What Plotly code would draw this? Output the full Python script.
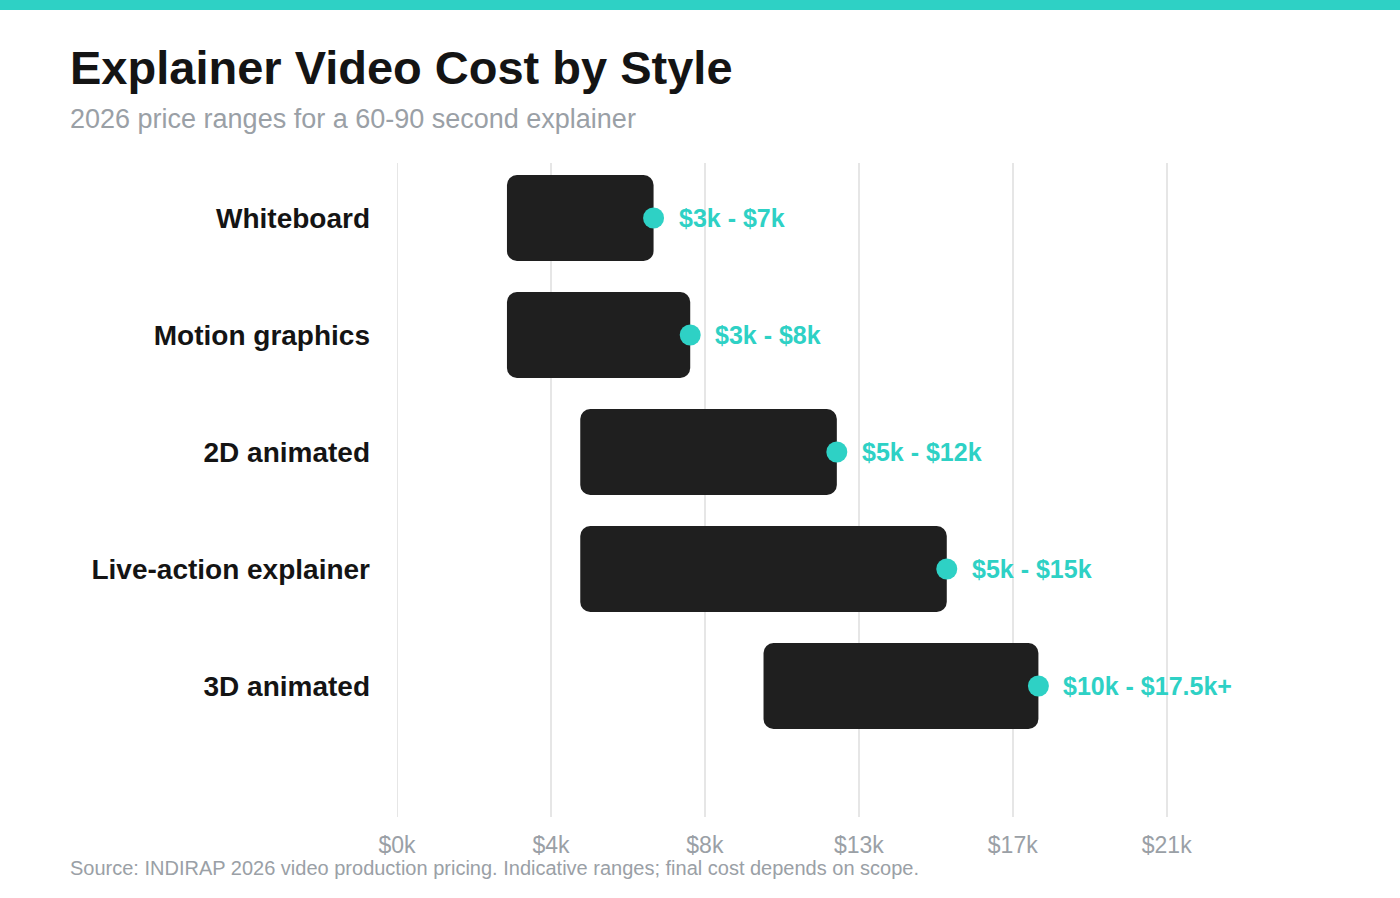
import plotly.graph_objects as go

styles = ["Whiteboard", "Motion graphics", "2D animated", "Live-action explainer", "3D animated"]
low_cost = [3000, 3000, 5000, 5000, 10000]
high_cost = [7000, 8000, 12000, 15000, 17500]
range_labels = ["$3k - $7k", "$3k - $8k", "$5k - $12k", "$5k - $15k", "$10k - $17.5k+"]
tick_values = [0, 4200, 8400, 12600, 16800, 21000]
tick_labels = ["$0k", "$4k", "$8k", "$13k", "$17k", "$21k"]

TEAL = "#2ED1C5"
DARK = "#1F1F1F"
GRAY = "#9AA0A6"
GRID = "#E6E6E6"
FONT = "Liberation Sans, Arial, sans-serif"

W, H = 1400, 898
ML, MR, MT, MB = 397, 160, 163, 81
PW, PH = W - ML - MR, H - MT - MB
XMAX = 23000

positions = list(range(len(styles)))

fig = go.Figure()
fig.add_trace(go.Bar(
    y=positions,
    x=[h - l for l, h in zip(low_cost, high_cost)],
    base=low_cost,
    orientation="h",
    width=0.735,
    marker=dict(color=DARK, line=dict(width=0)),
    hoverinfo="skip",
    showlegend=False,
))
fig.add_trace(go.Scatter(
    y=positions,
    x=high_cost,
    mode="markers",
    marker=dict(color=TEAL, size=21, line=dict(width=0)),
    hoverinfo="skip",
    showlegend=False,
))

annotations = []
for p, h, lab in zip(positions, high_cost, range_labels):
    annotations.append(dict(
        x=h, y=p, xref="x", yref="y", text=lab, showarrow=False,
        xanchor="left", yanchor="middle", xshift=24, borderpad=0,
        font=dict(family=FONT, size=25, color=TEAL, weight="bold"),
    ))

def px_x(px):
    return (px - ML) / PW

def px_y(py):
    return 1 - (py - MT) / PH

annotations.append(dict(
    x=px_x(69), y=px_y(119), xref="paper", yref="paper",
    text="2026 price ranges for a 60-90 second explainer", showarrow=False,
    xanchor="left", yanchor="middle", borderpad=0,
    font=dict(family=FONT, size=27, color=GRAY),
))
annotations.append(dict(
    x=px_x(69), y=px_y(868), xref="paper", yref="paper",
    text="Source: INDIRAP 2026 video production pricing. Indicative ranges; final cost depends on scope.",
    showarrow=False, xanchor="left", yanchor="middle", borderpad=0,
    font=dict(family=FONT, size=20, color=GRAY),
))

shapes = [dict(
    type="rect", xref="paper", yref="paper",
    x0=px_x(-5), x1=px_x(W + 5), y0=px_y(10), y1=px_y(-5),
    fillcolor=TEAL, line=dict(width=0), layer="above",
)]
# gridline at zero (plotly omits the grid at the range edge)
shapes.append(dict(
    type="line", xref="x", yref="paper", x0=0, x1=0, y0=0, y1=1,
    line=dict(color=GRID, width=2), layer="below",
))

fig.update_layout(
    width=W, height=H,
    margin=dict(l=ML, r=MR, t=MT, b=MB),
    paper_bgcolor="white", plot_bgcolor="white",
    barcornerradius=10,
    title=dict(
        text="Explainer Video Cost by Style",
        x=70 / W, xanchor="left", xref="container",
        y=1 - 68 / H, yanchor="middle", yref="container",
        font=dict(family=FONT, size=47, color="#141414", weight="bold"),
    ),
    xaxis=dict(
        range=[0, XMAX], tickvals=tick_values, ticktext=tick_labels,
        showgrid=True, gridcolor=GRID, gridwidth=2,
        zeroline=False, showline=False, ticks="",
        ticklabelstandoff=12,
        tickfont=dict(family=FONT, size=23, color=GRAY),
        fixedrange=True,
    ),
    yaxis=dict(
        range=[5.12, -0.47], tickvals=positions, ticktext=styles,
        showgrid=False, zeroline=False, showline=False, ticks="",
        ticklabelstandoff=26,
        tickfont=dict(family=FONT, size=28, color="#141414", weight="bold"),
        fixedrange=True,
    ),
    annotations=annotations,
    shapes=shapes,
)

fig.write_html(
    "out.html",
    config={"displayModeBar": False},
    post_script="document.body.style.margin='0';document.body.style.overflow='hidden';",
)
